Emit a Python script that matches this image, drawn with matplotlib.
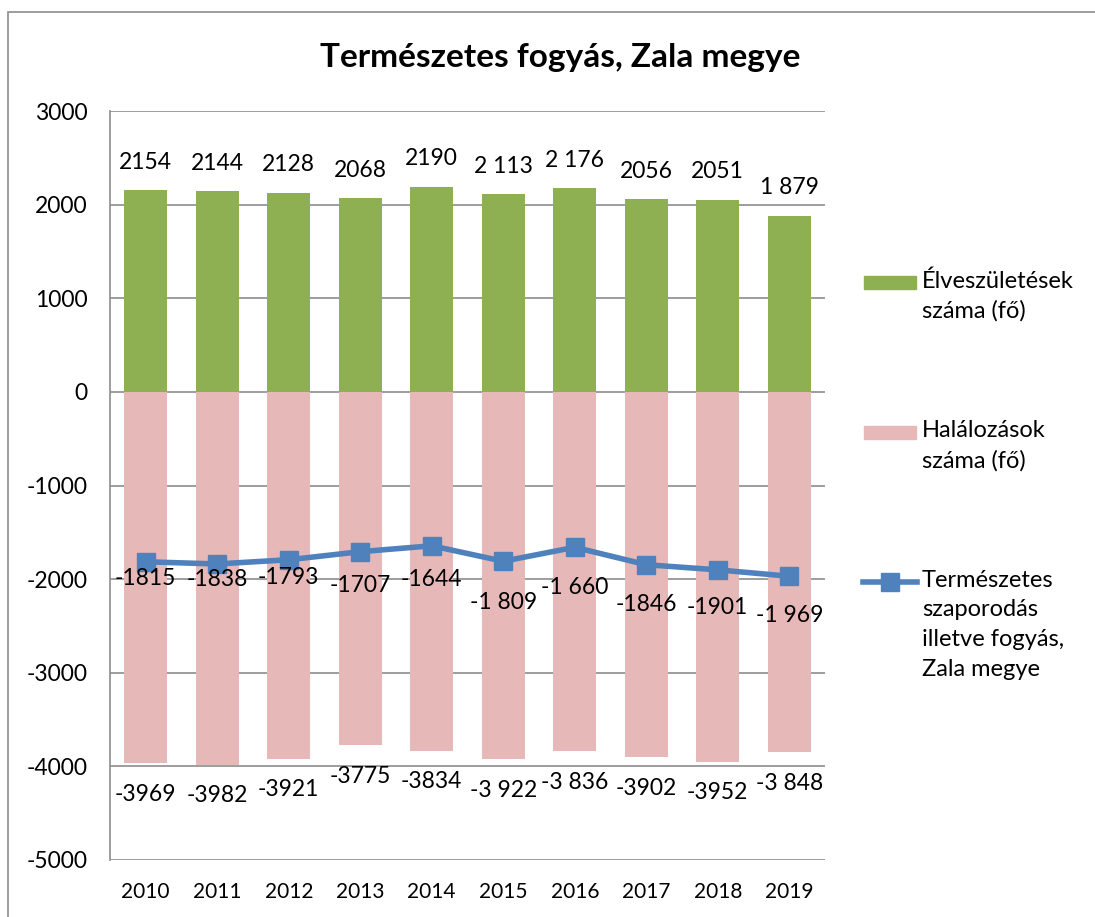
import matplotlib.pyplot as plt
from matplotlib.patches import Rectangle
from matplotlib.lines import Line2D
import numpy as np

plt.rcParams['font.family'] = ['Lato', 'DejaVu Sans']
plt.rcParams['axes.unicode_minus'] = False

# data
years = ['2010', '2011', '2012', '2013', '2014', '2015', '2016', '2017', '2018', '2019']
births = [2154, 2144, 2128, 2068, 2190, 2113, 2176, 2056, 2051, 1879]
deaths = [-3969, -3982, -3921, -3775, -3834, -3922, -3836, -3902, -3952, -3848]
natural = [-1815, -1838, -1793, -1707, -1644, -1809, -1660, -1846, -1901, -1969]
birth_labels = ['2154', '2144', '2128', '2068', '2190', '2 113', '2 176', '2056', '2051', '1 879']
death_labels = ['-3969', '-3982', '-3921', '-3775', '-3834', '-3 922', '-3 836', '-3902', '-3952', '-3 848']
natural_labels = ['-1815', '-1838', '-1793', '-1707', '-1644', '-1 809', '-1 660', '-1846', '-1901', '-1 969']

title = 'Természetes fogyás, Zala megye'
legend_labels = ['Élveszületések\nszáma (fő)', 'Halálozások\nszáma (fő)',
                 'Természetes\nszaporodás\nilletve fogyás,\nZala megye']

green = '#8FB052'
pink = '#E6B9B8'
blue = '#4F81BD'

# label offsets below the line points (pixels), as placed in the original
natural_off = [-17, -16, -18, -34, -34, -41, -40, -40, -38, -39]

fig = plt.figure(figsize=(10.95, 9.17), dpi=100)
ax = fig.add_axes([110 / 1095, 1 - 860 / 917, 715 / 1095, 749 / 917])

x = np.arange(len(years))
ax.bar(x, births, width=0.6, color=green, zorder=2)
ax.bar(x, deaths, width=0.6, color=pink, zorder=2)
ax.plot(x, natural, color=blue, lw=4, marker='s', markersize=13, zorder=3)

ax.set_xlim(-0.5, len(years) - 0.5)
ax.set_ylim(-5000, 3000)
ax.set_yticks(range(-5000, 3001, 1000))
ax.set_xticks(x)
ax.set_xticklabels(years, fontsize=15)
ax.tick_params(axis='y', labelsize=16.5, length=0, pad=16)
ax.tick_params(axis='x', length=0, pad=16)
ax.grid(axis='y', color='#8c8c8c', lw=1.2, zorder=0)
for s in ['top', 'right', 'bottom']:
    ax.spines[s].set_visible(False)
ax.spines['left'].set_color('#8c8c8c')
ax.spines['left'].set_linewidth(1.2)

for i in range(len(years)):
    ax.annotate(birth_labels[i], (x[i], births[i]), xytext=(0, 28),
                textcoords='offset pixels', ha='center', va='center', fontsize=16.5)
    ax.annotate(death_labels[i], (x[i], deaths[i]), xytext=(0, -31),
                textcoords='offset pixels', ha='center', va='center', fontsize=16.5)
    ax.annotate(natural_labels[i], (x[i], natural[i]), xytext=(0, natural_off[i]),
                textcoords='offset pixels', ha='center', va='center', fontsize=16.5)

fig.text(560 / 1095, 1 - 57 / 917, title, ha='center', va='center',
         fontsize=24, fontweight='bold')

# legend drawn by hand so the keys sit next to the first text line
W, H = 1095, 917
fig.patches.append(Rectangle((864 / W, 1 - 289 / H), 52 / W, 13 / H,
                             transform=fig.transFigure, color=green))
fig.patches.append(Rectangle((864 / W, 1 - 439 / H), 52 / W, 13 / H,
                             transform=fig.transFigure, color=pink))
fig.add_artist(Line2D([863 / W, 917 / W], [1 - 582 / H, 1 - 582 / H],
                      transform=fig.transFigure, color=blue, lw=4))
fig.add_artist(Line2D([890 / W], [1 - 582 / H], transform=fig.transFigure,
                      color=blue, marker='s', markersize=13))
for lab, yy in zip(legend_labels, [282, 432, 582]):
    fig.text(922 / W, 1 - (yy - 12) / H, lab, ha='left', va='top',
             fontsize=17, linespacing=1.5)

# outer chart border
fig.patches.append(Rectangle((8 / W, -0.01), 1.0, 1 - 12 / H + 0.01,
                             transform=fig.transFigure, fill=False,
                             edgecolor='#8c8c8c', lw=1.2))

fig.savefig('out.png', dpi=100)
